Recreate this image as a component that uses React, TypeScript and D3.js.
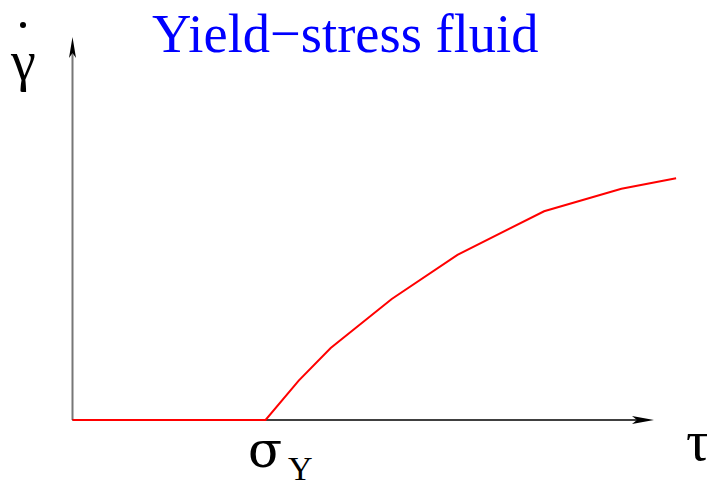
import React from "react";
import * as d3 from "d3";

// Flow curve of a yield-stress fluid: shear rate vs shear stress
const stress = [0, 3.32, 3.89, 4.44, 5.49, 6.62, 8.11, 9.44, 10.38];
const shearRate = [0, 0, 0.103, 0.188, 0.316, 0.431, 0.545, 0.604, 0.631];

const title = "Yield\u2212stress fluid";

const W = 707;
const H = 481;

export default function App() {
  const x = d3.scaleLinear().domain([0, 10]).range([72.5, 654]);
  const y = d3.scaleLinear().domain([0, 1]).range([420, 37]);

  const pts: [number, number][] = stress.map((s, i) => [s, shearRate[i]]);
  const line = d3
    .line<[number, number]>()
    .x((d) => x(d[0]))
    .y((d) => y(d[1]));

  const x0 = x(0);
  const y0 = y(0);
  const xEnd = x.range()[1];
  const yEnd = y.range()[1];

  // stealth-style arrowheads
  const xArrow = `M${xEnd},${y0} L${xEnd - 22},${y0 - 4} L${xEnd - 17},${y0} L${xEnd - 22},${y0 + 4} Z`;
  const yArrow = `M${x0},${yEnd} L${x0 - 3.5},${yEnd + 21} L${x0},${yEnd + 16} L${x0 + 3.5},${yEnd + 21} Z`;

  const serif = "'Liberation Serif', 'Times New Roman', serif";
  const greek = "'DejaVu Serif', serif";

  return (
    <svg
      width={W}
      height={H}
      style={{ position: "absolute", left: 0, top: 0, background: "#fff" }}
    >
      <text x={152} y={52} fill="#0000ff" fontFamily={serif} fontSize={54.5}>
        {title}
      </text>

      {/* axes */}
      <line x1={x0} y1={y0} x2={x0} y2={yEnd + 16} stroke="#777" strokeWidth={2} />
      <path d={yArrow} fill="#000" />
      <line x1={x0} y1={y0} x2={xEnd - 17} y2={y0} stroke="#000" strokeWidth={1.5} />
      <path d={xArrow} fill="#000" />

      {/* flow curve */}
      <path d={line(pts) ?? ""} fill="none" stroke="#ff0000" strokeWidth={2} />

      {/* axis labels */}
      <circle cx={23} cy={25} r={3} fill="#000" />
      <text x={11} y={80} fontFamily={serif} fontSize={56}>
        γ
      </text>
      <text x={686} y={460} fontFamily={serif} fontSize={58}>
        τ
      </text>
      <text x={248} y={467} fontFamily={greek} fontSize={50}>
        σ
      </text>
      <text x={288} y={480} fontFamily={serif} fontSize={34}>
        Y
      </text>
    </svg>
  );
}
